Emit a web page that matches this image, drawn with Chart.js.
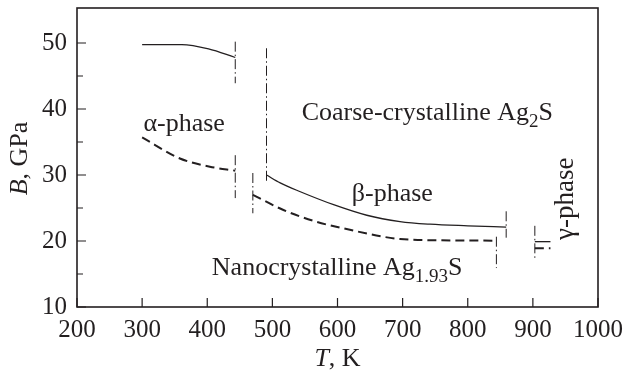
<!doctype html>
<html>
<head>
<title>Bulk modulus of Ag2S</title>
<script src="https://cdn.jsdelivr.net/npm/chart.js@4.4.1/dist/chart.umd.min.js"></script>
<style>
body { margin: 0; background: #fff; }
</style>
</head>
<body>
<canvas id="canvas" width="624" height="374"></canvas>
<script>
// coarse-crystalline Ag2S (solid)
var coarseAlphaT = [300, 361, 402, 443];
var coarseAlphaB = [49.75, 49.75, 49.1, 47.8];
var coarseBetaT = [491, 512, 542, 594, 645, 696, 742, 800, 859];
var coarseBetaB = [30.0, 28.8, 27.5, 25.5, 23.9, 22.95, 22.55, 22.3, 22.1];
var coarseGammaT = [903, 927];
var coarseGammaB = [19.9, 19.9];

// nanocrystalline Ag1.93S (dashed)
var nanoAlphaT = [300, 358, 404, 443];
var nanoAlphaB = [35.7, 32.5, 31.26, 30.65];
var nanoBetaT = [470, 517, 568, 619, 670, 696, 760, 842];
var nanoBetaB = [27.0, 24.7, 22.9, 21.7, 20.65, 20.3, 20.1, 20.05];
var nanoGammaT = [903, 927];
var nanoGammaB = [18.9, 18.9];

// phase transition markers (dash-dot)
var transT = [443, 443, 470, 491, 844, 859, 903];
var transTop = [50.2, 33.0, 30.3, 49.2, 20.65, 24.5, 22.3];
var transBottom = [43.9, 26.5, 24.2, 28.8, 15.9, 20.5, 17.3];

var xTicks = [200, 300, 400, 500, 600, 700, 800, 900, 1000];
var yTicks = [10, 20, 30, 40, 50];
var yMinorTicks = [15, 25, 35, 45];

var ink = '#231f20';
var serif = "'Liberation Serif', 'DejaVu Serif', serif";

function pts(xs, ys) {
    return xs.map(function(x, i) { return {x: x, y: ys[i]}; });
}

function curve(xs, ys, dashed) {
    return {
        data: pts(xs, ys),
        showLine: true,
        borderColor: ink,
        borderWidth: dashed ? 2 : 1.3,
        borderDash: dashed ? [9, 5] : [],
        pointRadius: 0,
        cubicInterpolationMode: 'monotone',
        fill: false
    };
}

var datasets = [
    curve(coarseAlphaT, coarseAlphaB, false),
    curve(coarseBetaT, coarseBetaB, false),
    curve(coarseGammaT, coarseGammaB, false),
    curve(nanoAlphaT, nanoAlphaB, true),
    curve(nanoBetaT, nanoBetaB, true),
    curve(nanoGammaT, nanoGammaB, true)
];
transT.forEach(function(t, i) {
    datasets.push({
        data: [{x: t, y: transTop[i]}, {x: t, y: transBottom[i]}],
        showLine: true,
        borderColor: ink,
        borderWidth: 1,
        borderDash: [10, 3, 1.5, 3],
        pointRadius: 0
    });
});

// text with optional subscripts
function drawRich(ctx, parts, x, y, size) {
    parts.forEach(function(p) {
        var fs = p.sub ? Math.round(size * 0.72) : size;
        ctx.font = (p.italic ? 'italic ' : '') + fs + 'px ' + serif;
        ctx.fillText(p.t, x, y + (p.sub ? size * 0.28 : 0));
        x += ctx.measureText(p.t).width;
    });
}
function richWidth(ctx, parts, size) {
    var w = 0;
    parts.forEach(function(p) {
        var fs = p.sub ? Math.round(size * 0.72) : size;
        ctx.font = (p.italic ? 'italic ' : '') + fs + 'px ' + serif;
        w += ctx.measureText(p.t).width;
    });
    return w;
}

var labels = [
    {parts: [{t: 'Coarse-crystalline Ag'}, {t: '2', sub: true}, {t: 'S'}], x: 545, y: 38.3},
    {parts: [{t: '\u03b1-phase'}], x: 302, y: 36.7},
    {parts: [{t: '\u03b2-phase'}], x: 622, y: 26.0},
    {parts: [{t: 'Nanocrystalline Ag'}, {t: '1.93', sub: true}, {t: 'S'}], x: 407, y: 14.85}
];

var framePlugin = {
    id: 'frame',
    afterDraw: function(chart) {
        var ctx = chart.ctx, a = chart.chartArea;
        var xs = chart.scales.x, ys = chart.scales.y;
        ctx.save();
        ctx.strokeStyle = ink;
        ctx.lineWidth = 1.6;
        ctx.strokeRect(a.left, a.top, a.right - a.left, a.bottom - a.top);
        ctx.lineWidth = 1.2;
        ctx.beginPath();
        yTicks.forEach(function(v) {
            var py = ys.getPixelForValue(v);
            ctx.moveTo(a.left, py); ctx.lineTo(a.left + 9, py);
        });
        yMinorTicks.forEach(function(v) {
            var py = ys.getPixelForValue(v);
            ctx.moveTo(a.left, py); ctx.lineTo(a.left + 6, py);
        });
        xTicks.forEach(function(v) {
            var px = xs.getPixelForValue(v);
            ctx.moveTo(px, a.bottom); ctx.lineTo(px, a.bottom - 9);
        });
        ctx.stroke();

        ctx.fillStyle = ink;
        ctx.textBaseline = 'alphabetic';
        ctx.textAlign = 'left';
        labels.forEach(function(l) {
            drawRich(ctx, l.parts, xs.getPixelForValue(l.x), ys.getPixelForValue(l.y), 26);
        });

        // gamma-phase, rotated
        ctx.save();
        ctx.translate(xs.getPixelForValue(950), ys.getPixelForValue(26.4));
        ctx.rotate(-Math.PI / 2);
        ctx.textAlign = 'center';
        ctx.textBaseline = 'middle';
        ctx.font = '27px ' + serif;
        ctx.fillText('\u03b3-phase', 0, 0);
        ctx.restore();

        // axis titles
        var tParts = [{t: 'T', italic: true}, {t: ', K'}];
        var tw = richWidth(ctx, tParts, 26);
        ctx.textBaseline = 'middle';
        drawRich(ctx, tParts, (a.left + a.right) / 2 - tw / 2, 359, 26);

        var bParts = [{t: 'B', italic: true}, {t: ', GPa'}];
        var bw = richWidth(ctx, bParts, 26);
        ctx.save();
        ctx.translate(20, (ys.getPixelForValue(30) + ys.getPixelForValue(35)) / 2);
        ctx.rotate(-Math.PI / 2);
        drawRich(ctx, bParts, -bw / 2, 0, 26);
        ctx.restore();
        ctx.restore();
    }
};

var config = {
    type: 'scatter',
    data: {datasets: datasets},
    options: {
        responsive: false,
        animation: false,
        layout: {padding: {top: 8, right: 26, left: 0, bottom: 0}},
        plugins: {legend: {display: false}, tooltip: {enabled: false}},
        scales: {
            x: {
                type: 'linear',
                min: 200,
                max: 1000,
                grid: {display: false, drawTicks: false},
                border: {display: false},
                ticks: {
                    stepSize: 100,
                    autoSkip: false,
                    maxRotation: 0,
                    padding: 8,
                    color: ink,
                    font: {family: serif, size: 25},
                    callback: function(v) { return String(v); }
                },
                afterFit: function(s) { s.height = 67; s.paddingLeft = 0; s.paddingRight = 0; }
            },
            y: {
                type: 'linear',
                min: 10,
                max: 55.3,
                grid: {display: false, drawTicks: false},
                border: {display: false},
                ticks: {
                    stepSize: 10,
                    includeBounds: false,
                    padding: 10,
                    color: ink,
                    font: {family: serif, size: 25},
                    callback: function(v) { return String(v); }
                },
                afterFit: function(s) { s.width = 77; s.paddingTop = 0; s.paddingBottom = 0; }
            }
        }
    },
    plugins: [framePlugin]
};

window.onload = function() {
    window.myChart = new Chart(document.getElementById('canvas'), config);
};
</script>
</body>
</html>
